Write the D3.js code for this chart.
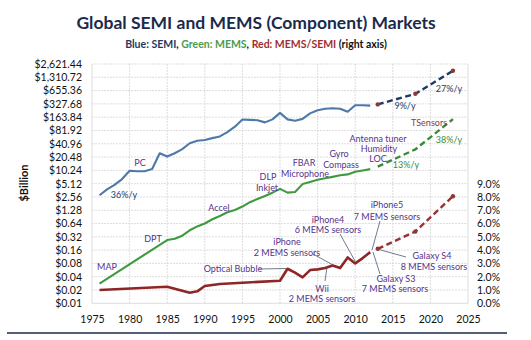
<!DOCTYPE html>
<html lang="en">
  <head>
    <meta charset="UTF-8" />
    <title>Global SEMI and MEMS Markets</title>
    <script src="https://cdn.jsdelivr.net/npm/d3@7"></script>
    <style>
      body { margin: 0; background: #fff; }
      text { font-family: Lato, "Open Sans", sans-serif; }
    </style>
  </head>
  <body>
    <svg id="svg" width="531" height="340"></svg>
    <script>
      // tick labels
      const yearTicks = [1975, 1980, 1985, 1990, 1995, 2000, 2005, 2010, 2015, 2020, 2025];
      const billionTicks = [0.01, 0.02, 0.04, 0.08, 0.16, 0.32, 0.64, 1.28, 2.56, 5.12, 10.24,
        20.48, 40.96, 81.92, 163.84, 327.68, 655.36, 1310.72, 2621.44];
      const percentTicks = [0, 1, 2, 3, 4, 5, 6, 7, 8, 9];

      // blue: SEMI market ($B)
      const semiYears = [1976, 1977, 1978, 1979, 1980, 1981, 1982, 1983, 1984, 1985, 1986, 1987,
        1988, 1989, 1990, 1991, 1992, 1993, 1994, 1995, 1996, 1997, 1998, 1999, 2000, 2001,
        2002, 2003, 2004, 2005, 2006, 2007, 2008, 2009, 2010, 2011, 2012];
      const semiValues = [2.8, 3.8, 4.8, 6.5, 10, 9.8, 9.8, 11, 25, 21, 25, 31,
        42, 48, 50, 55, 60, 75, 100, 145, 142, 140, 125, 146, 205, 146,
        136, 150, 200, 235, 255, 262, 255, 217, 305, 305, 300];

      // green: MEMS market ($B)
      const memsYears = [1976, 1985, 1986, 1987, 1988, 1989, 1990, 1991, 1992, 1993, 1994, 1995,
        1996, 1997, 1998, 1999, 2000, 2001, 2002, 2003, 2004, 2005, 2006, 2007, 2008, 2009,
        2010, 2011, 2012];
      const memsValues = [0.028, 0.27, 0.29, 0.34, 0.45, 0.55, 0.64, 0.8, 0.95, 1.15, 1.3, 1.55,
        1.95, 2.3, 2.7, 3.2, 3.9, 3.2, 3.3, 5.0, 5.6, 6.3, 6.8, 7.3, 7.9, 8.3,
        9.5, 10.2, 10.9];

      // red: MEMS/SEMI (%), right axis
      const ratioYears = [1976, 1985, 1986, 1987, 1988, 1989, 1990, 1992, 1995, 2000, 2001, 2002,
        2003, 2004, 2005, 2006, 2007, 2008, 2009, 2010, 2011, 2012];
      const ratioValues = [1.0, 1.25, 1.1, 0.95, 0.8, 0.9, 1.3, 1.45, 1.55, 1.7, 2.6, 2.3,
        1.95, 2.5, 2.55, 2.65, 2.85, 2.65, 3.45, 3.0, 3.4, 3.85];

      // forecasts (dashed)
      const forecastYears = [2013, 2018, 2023];
      const semiForecast = [319, 554, 1839];
      const memsForecast = [12.4, 30.6, 148];
      const ratioForecast = [4.1, 5.4, 8.05];

      const svg = d3.select("#svg");
      const plotL = 92, plotR = 468, plotT = 64, plotB = 303.3;

      const x = d3.scaleLinear().domain([1975, 2025]).range([plotL, plotR]);
      const yL = d3.scaleLog().base(2).domain([0.01, 2621.44]).range([plotB, plotT]);
      const step = yL(0.01) - yL(0.02);
      const yR = d3.scaleLinear().domain([0, 9]).range([plotB, plotB - 9 * step]);

      // grid
      const grid = svg.append("g").attr("stroke", "#d4d4d4").attr("stroke-width", 0.8);
      grid.selectAll("line.h").data(billionTicks).enter().append("line")
        .attr("x1", plotL).attr("x2", plotR)
        .attr("y1", d => yL(d)).attr("y2", d => yL(d))
        .attr("stroke-dasharray", d => (d === 0.01 ? null : "2,1"));
      grid.selectAll("line.v").data(yearTicks).enter().append("line")
        .attr("y1", plotT).attr("y2", plotB)
        .attr("x1", d => x(d)).attr("x2", d => x(d))
        .attr("stroke-dasharray", d => (d === 1975 || d === 2025 ? null : "2,1"));

      // axes
      const axL = svg.append("g").attr("transform", `translate(${plotL},0)`)
        .call(d3.axisLeft(yL).tickValues(billionTicks).tickSize(0).tickPadding(10)
          .tickFormat(d => "$" + d3.format(",.2f")(d)));
      const axR = svg.append("g").attr("transform", `translate(${plotR},0)`)
        .call(d3.axisRight(yR).tickValues(percentTicks).tickSize(0).tickPadding(9)
          .tickFormat(d => d3.format(".1f")(d) + "%"));
      const axB = svg.append("g").attr("transform", `translate(0,${plotB})`)
        .call(d3.axisBottom(x).tickValues(yearTicks).tickSize(0).tickPadding(12)
          .tickFormat(d3.format("d")));
      [axL, axR, axB].forEach(a => {
        a.select(".domain").remove();
        a.selectAll("text").attr("fill", "#111").style("font-size", "10.5px")
          .style("font-family", "Lato, sans-serif");
      });

      // lines
      const lineL = d3.line().x(d => x(d[0])).y(d => yL(d[1]));
      const lineR = d3.line().x(d => x(d[0])).y(d => yR(d[1]));
      const zip = (a, b) => a.map((v, i) => [v, b[i]]);

      svg.append("path").attr("d", lineL(zip(semiYears, semiValues)))
        .attr("fill", "none").attr("stroke", "#4f79a8").attr("stroke-width", 2.1)
        .attr("stroke-linejoin", "round");
      svg.append("path").attr("d", lineL(zip(memsYears, memsValues)))
        .attr("fill", "none").attr("stroke", "#3f9a3f").attr("stroke-width", 2.1)
        .attr("stroke-linejoin", "round");
      svg.append("path").attr("d", lineR(zip(ratioYears, ratioValues)))
        .attr("fill", "none").attr("stroke", "#8e2626").attr("stroke-width", 2.6)
        .attr("stroke-linejoin", "round");

      const dashes = [
        { d: lineL(zip(forecastYears, semiForecast)), c: "#1f3a64" },
        { d: lineL(zip(forecastYears, memsForecast)), c: "#3b8a3b" },
        { d: lineR(zip(forecastYears, ratioForecast)), c: "#9a3030" }
      ];
      svg.selectAll("path.fc").data(dashes).enter().append("path")
        .attr("d", d => d.d).attr("fill", "none").attr("stroke", d => d.c)
        .attr("stroke-width", 2.4).attr("stroke-dasharray", "6,3.5");

      const marks = zip(forecastYears, semiForecast).map(p => [x(p[0]), yL(p[1])])
        .concat(zip(forecastYears, ratioForecast).map(p => [x(p[0]), yR(p[1])]));
      svg.selectAll("circle.mk").data(marks).enter().append("circle")
        .attr("cx", d => d[0]).attr("cy", d => d[1]).attr("r", 2.2).attr("fill", "#8b3a3a");

      // leader lines
      const leaders = [
        [259, 269, 286, 268.5],
        [313, 254, 333, 265],
        [340, 234, 355, 261],
        [380, 221, 372, 250],
        [380, 274, 373, 252],
        [406, 257, 379, 249.5],
        [325, 281, 327, 267]
      ];
      svg.selectAll("line.ld").data(leaders).enter().append("line")
        .attr("x1", d => d[0]).attr("y1", d => d[1]).attr("x2", d => d[2]).attr("y2", d => d[3])
        .attr("stroke", "#4a5a70").attr("stroke-width", 0.8);

      // annotations
      const purple = "#55338c";
      const notes = [
        ["36%/y", 124, 198, "#1f3a64"],
        ["PC", 140, 166, purple],
        ["MAP", 107, 270, purple],
        ["DPT", 153, 242, purple],
        ["Accel", 219, 211, purple],
        ["Optical Bubble", 233, 272, purple],
        ["DLP", 268, 180, purple],
        ["Inkjet", 267, 191, purple],
        ["FBAR", 304, 166, purple],
        ["Microphone", 305, 176.5, purple],
        ["Gyro", 339, 157, purple],
        ["Compass", 341, 168, purple],
        ["Antenna tuner", 378, 141.5, purple],
        ["Humidity", 379, 151.5, purple],
        ["LOC", 378, 161.5, purple],
        ["13%/y", 406, 168, "#3b8a3b"],
        ["38%/y", 449, 142.5, "#3b8a3b"],
        ["TSensors", 429, 126, "#8b3a3a"],
        ["9%/y", 405, 109, "#1f3a64"],
        ["27%/y", 449, 92, "#1f3a64"],
        ["iPhone", 287, 245, purple],
        ["2 MEMS sensors", 287, 256, purple],
        ["iPhone4", 328, 222.5, purple],
        ["6 MEMS sensors", 328, 232.5, purple],
        ["iPhone5", 387, 208, purple],
        ["7 MEMS sensors", 387, 220, purple],
        ["Galaxy S4", 432, 259, purple],
        ["8 MEMS sensors", 434, 270, purple],
        ["Galaxy S3", 396, 281.5, purple],
        ["7 MEMS sensors", 395, 291.5, purple],
        ["Wii", 322, 291.5, purple],
        ["2 MEMS sensors", 322, 301.5, purple]
      ];
      svg.selectAll("text.note").data(notes).enter().append("text")
        .attr("x", d => d[1]).attr("y", d => d[2]).attr("fill", d => d[3])
        .attr("text-anchor", "middle").style("font-size", "9px").style("font-weight", 400)
        .text(d => d[0]);

      // titles
      svg.append("text").attr("x", 256).attr("y", 29).attr("text-anchor", "middle")
        .attr("fill", "#1b2a4a").style("font-size", "17.5px").style("font-weight", 700)
        .text("Global SEMI and MEMS (Component) Markets");
      const sub = svg.append("text").attr("x", 256).attr("y", 48).attr("text-anchor", "middle")
        .style("font-size", "10.5px").style("font-weight", 700);
      [["Blue: SEMI", "#1f3a64"], [", ", "#111"], ["Green: MEMS", "#4c9a4c"], [", ", "#111"],
       ["Red: MEMS/SEMI", "#a03030"], [" (right axis)", "#111"]].forEach(p => {
        sub.append("tspan").attr("fill", p[1]).text(p[0]);
      });

      svg.append("text").attr("transform", "translate(28,183) rotate(-90)")
        .attr("text-anchor", "middle").style("font-size", "11px").style("font-weight", 700)
        .attr("fill", "#111").text("$Billion");

      svg.append("line").attr("x1", 7).attr("x2", 507).attr("y1", 333).attr("y2", 333)
        .attr("stroke", "#1b2a4a").attr("stroke-width", 1.5);
    </script>
  </body>
</html>
